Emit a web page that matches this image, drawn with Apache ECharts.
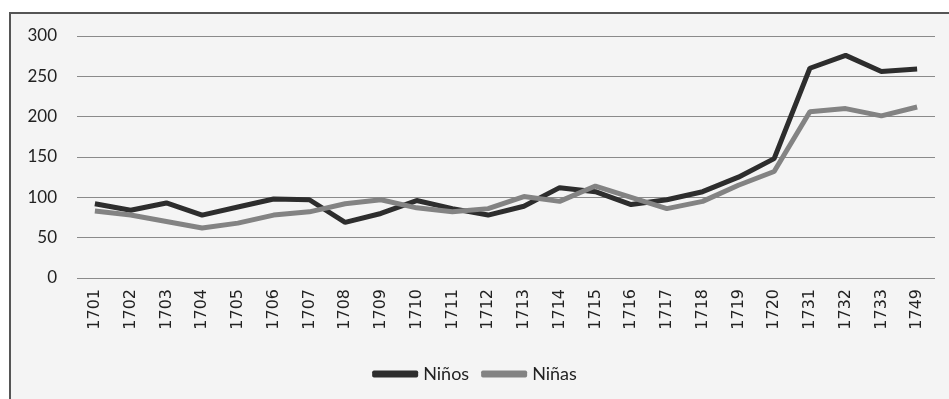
<!DOCTYPE html>
<html>
<head>
<meta charset="utf-8">
<script src="https://cdn.jsdelivr.net/npm/echarts@6/dist/echarts.min.js"></script>
<style>
  html, body { margin: 0; padding: 0; background: #fff; }
  .frame {
    position: absolute; left: 9px; top: 12px; width: 960px; height: 420px;
    border-left: 2px solid #555; border-top: 2px solid #555;
    background: #f4f4f4;
  }
  #chart { position: absolute; left: 0; top: 0; width: 949px; height: 399px; }
</style>
</head>
<body>
<div class="frame"></div>
<div id="chart"></div>
<script>
  // years on the x axis
  const years = ['1701','1702','1703','1704','1705','1706','1707','1708','1709','1710','1711','1712',
    '1713','1714','1715','1716','1717','1718','1719','1720','1731','1732','1733','1749']
  // niños
  const ninos = [92, 84, 93, 78, 88, 98, 97, 69, 80, 96, 86, 78, 89, 112, 107, 91, 97, 107, 125, 148, 260, 276, 256, 259]
  // niñas
  const ninas = [83, 78, 70, 62, 68, 78, 82, 92, 97, 87, 82, 86, 101, 95, 114, 100, 86, 95, 115, 132, 206, 210, 201, 212]

  var chart = echarts.init(document.getElementById('chart'))
  var option = {
    backgroundColor: 'transparent',
    animation: false,
    grid: { left: 77, right: 14, top: 36, bottom: 121 },
    legend: {
      top: 360,
      left: 'center',
      itemWidth: 46,
      itemHeight: 7,
      itemGap: 12,
      icon: 'roundRect',
      textStyle: { fontFamily: 'Lato', fontSize: 18, color: '#222' },
      data: ['Niños', 'Niñas']
    },
    xAxis: {
      type: 'category',
      data: years,
      boundaryGap: true,
      axisLine: { show: false },
      axisTick: { show: false },
      axisLabel: {
        rotate: 90,
        interval: 0,
        margin: 11,
        fontFamily: 'DejaVu Sans',
        fontSize: 16,
        color: '#222'
      }
    },
    yAxis: {
      type: 'value',
      min: 0,
      max: 300,
      interval: 50,
      axisLine: { show: false },
      axisTick: { show: false },
      axisLabel: { margin: 20, fontFamily: 'Lato', fontSize: 17, color: '#222' },
      splitLine: { lineStyle: { color: '#8a8a8a', width: 1 } }
    },
    series: [
      {
        name: 'Niños',
        type: 'line',
        data: ninos,
        symbol: 'none',
        lineStyle: { color: '#2d2d2d', width: 5 },
        itemStyle: { color: '#2d2d2d' }
      },
      {
        name: 'Niñas',
        type: 'line',
        data: ninas,
        symbol: 'none',
        lineStyle: { color: '#838383', width: 5 },
        itemStyle: { color: '#838383' }
      }
    ]
  }
  chart.setOption(option)
</script>
</body>
</html>
